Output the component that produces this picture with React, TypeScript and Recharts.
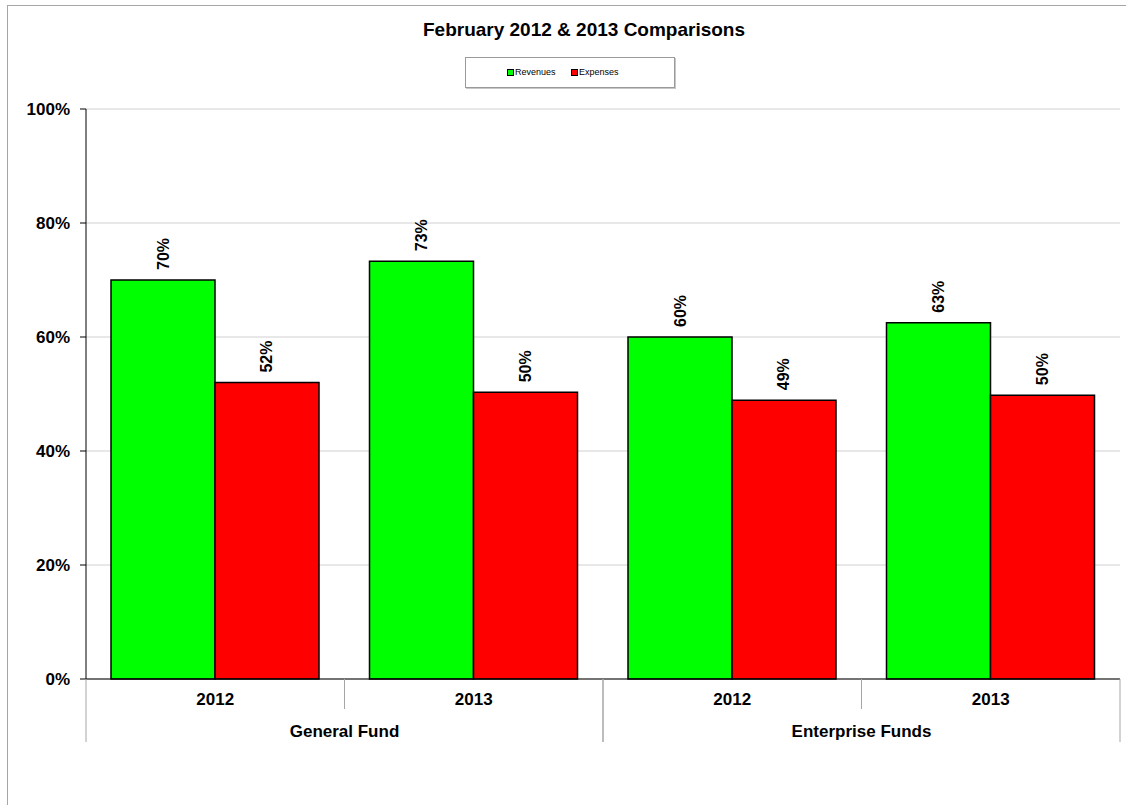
import { Bar, BarChart, CartesianGrid, LabelList, XAxis, YAxis } from "recharts";

const funds = ["General Fund", "General Fund", "Enterprise Funds", "Enterprise Funds"];
const years = ["2012", "2013", "2012", "2013"];
const revenues = [70.0, 73.3, 60.0, 62.5];
const expenses = [52.0, 50.3, 48.9, 49.8];
const yTicks = [0, 20, 40, 60, 80, 100];

const FONT = "'Liberation Sans', Arial, sans-serif";

const rows = years.map((year, i) => ({
  key: `${funds[i]}-${year}-${i}`,
  year,
  fund: funds[i],
  revenues: revenues[i],
  expenses: expenses[i],
}));

// two-level category axis: year on top, fund name below, with divider lines between bands
function YearFundTick(props: any) {
  const { x, y, payload, index } = props;
  const half = payload && payload.offset ? payload.offset : 129.25;
  const first = index === 0 || funds[index - 1] !== funds[index];
  const last = index === funds.length - 1 || funds[index + 1] !== funds[index];
  return (
    <g>
      <text
        x={x}
        y={y + 26}
        textAnchor="middle"
        fontFamily={FONT}
        fontWeight="bold"
        fontSize={17}
        fill="#000"
      >
        {years[index]}
      </text>
      {first && <line x1={x - half} x2={x - half} y1={y} y2={y + 63} stroke="#a6a6a6" />}
      {last ? (
        <line x1={x + half} x2={x + half} y1={y} y2={y + 63} stroke="#a6a6a6" />
      ) : (
        <line x1={x + half} x2={x + half} y1={y} y2={y + 30} stroke="#a6a6a6" />
      )}
      {first && (
        <text
          x={x + half}
          y={y + 58}
          textAnchor="middle"
          fontFamily={FONT}
          fontWeight="bold"
          fontSize={17}
          fill="#000"
        >
          {funds[index]}
        </text>
      )}
    </g>
  );
}

function PctLabel(props: any) {
  const { x, y, width, value } = props;
  const cx = x + width / 2;
  const ty = y - 10;
  return (
    <text
      x={cx}
      y={ty}
      transform={`rotate(-90 ${cx} ${ty})`}
      textAnchor="start"
      dominantBaseline="central"
      fontFamily={FONT}
      fontWeight="bold"
      fontSize={16}
      fill="#000"
    >
      {Math.round(value)}%
    </text>
  );
}

function LegendSwatch({ color }: { color: string }) {
  return (
    <span
      style={{
        display: "inline-block",
        width: 5,
        height: 5,
        background: color,
        border: "1px solid #000",
        marginRight: 1,
        verticalAlign: "middle",
      }}
    />
  );
}

export default function App() {
  return (
    <div
      style={{
        position: "fixed",
        left: 0,
        top: 0,
        width: 1126,
        height: 805,
        overflow: "hidden",
        background: "#fff",
      }}
    >
      <div
        style={{
          position: "absolute",
          left: 7,
          top: 5,
          width: 1200,
          height: 900,
          border: "1px solid #a6a6a6",
        }}
      />
      <div
        style={{
          position: "absolute",
          left: 334,
          top: 19,
          width: 500,
          textAlign: "center",
          fontFamily: FONT,
          fontWeight: "bold",
          fontSize: 19,
          color: "#000",
        }}
      >
        February 2012 &amp; 2013 Comparisons
      </div>
      <div
        style={{
          position: "absolute",
          left: 465,
          top: 57,
          width: 208,
          height: 29,
          border: "1px solid #9a9a9a",
          boxShadow: "1px 1px 0 #c8c8c8",
          fontFamily: FONT,
          fontSize: 9,
          color: "#000",
          boxSizing: "content-box",
        }}
      >
        <div style={{ position: "absolute", left: 41, top: 9 }}>
          <LegendSwatch color="#00ff00" />
          Revenues
        </div>
        <div style={{ position: "absolute", left: 105, top: 9 }}>
          <LegendSwatch color="#ff0000" />
          Expenses
        </div>
      </div>
      <div style={{ position: "absolute", left: 0, top: 0 }}>
        <BarChart
          width={1126}
          height={805}
          data={rows}
          margin={{ top: 109, right: 6, left: 6, bottom: 61 }}
          barGap={0}
          barCategoryGap={25}
        >
          <CartesianGrid vertical={false} stroke="#d0d0d0" />
          <XAxis
            dataKey="key"
            interval={0}
            height={65}
            tickLine={false}
            tickSize={0}
            tickMargin={0}
            axisLine={{ stroke: "#000" }}
            tick={<YearFundTick />}
          />
          <YAxis
            domain={[0, 100]}
            ticks={yTicks}
            width={80}
            tickSize={6}
            tickMargin={10}
            tickFormatter={(v: number) => `${v}%`}
            axisLine={{ stroke: "#000" }}
            tickLine={{ stroke: "#000" }}
            tick={{ fontFamily: FONT, fontWeight: "bold", fontSize: 17, fill: "#000" }}
          />
          <YAxis
            yAxisId="edge"
            orientation="right"
            domain={[0, 100]}
            width={0}
            tick={false}
            tickLine={false}
            axisLine={{ stroke: "#d0d0d0" }}
          />
          <Bar dataKey="revenues" name="Revenues" fill="#00ff00" stroke="#000" strokeWidth={1.5} isAnimationActive={false}>
            <LabelList dataKey="revenues" content={<PctLabel />} />
          </Bar>
          <Bar dataKey="expenses" name="Expenses" fill="#ff0000" stroke="#000" strokeWidth={1.5} isAnimationActive={false}>
            <LabelList dataKey="expenses" content={<PctLabel />} />
          </Bar>
        </BarChart>
      </div>
    </div>
  );
}
